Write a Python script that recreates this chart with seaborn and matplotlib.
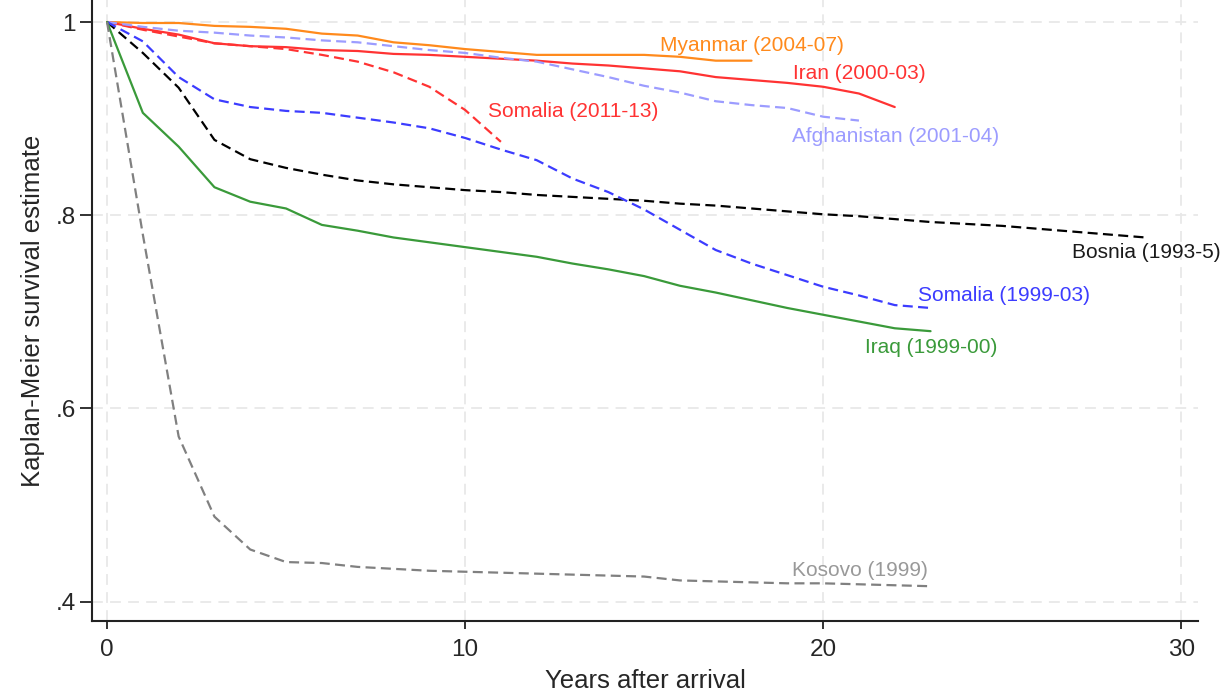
import numpy as np
import pandas as pd
import matplotlib
matplotlib.use("Agg")
import matplotlib.pyplot as plt
import seaborn as sns

# ---- data ----
SERIES = ["Myanmar (2004-07)", "Iran (2000-03)", "Somalia (2011-13)", "Afghanistan (2001-04)",
          "Bosnia (1993-5)", "Somalia (1999-03)", "Iraq (1999-00)", "Kosovo (1999)"]

myanmar = [1, 0.999, 0.999, 0.996, 0.995, 0.993, 0.988, 0.986, 0.979, 0.976, 0.972,
           0.969, 0.966, 0.966, 0.966, 0.966, 0.964, 0.960, 0.960]
iran = [1, 0.993, 0.987, 0.978, 0.975, 0.974, 0.971, 0.970, 0.967, 0.966, 0.964,
        0.962, 0.960, 0.957, 0.955, 0.952, 0.949, 0.943, 0.940, 0.937, 0.933, 0.926, 0.912]
somalia_11 = [1, 0.992, 0.985, 0.978, 0.975, 0.972, 0.966, 0.959, 0.948, 0.933, 0.909, 0.876]
afghanistan = [1, 0.995, 0.991, 0.989, 0.986, 0.984, 0.981, 0.979, 0.975, 0.971, 0.968,
               0.963, 0.959, 0.951, 0.943, 0.934, 0.927, 0.918, 0.914, 0.911, 0.902, 0.898]
bosnia = [1, 0.968, 0.932, 0.878, 0.858, 0.849, 0.842, 0.836, 0.832, 0.829, 0.826,
          0.824, 0.821, 0.819, 0.817, 0.815, 0.812, 0.810, 0.807, 0.804, 0.801,
          0.799, 0.796, 0.793, 0.791, 0.789, 0.786, 0.783, 0.780, 0.777]
somalia_99 = [1, 0.980, 0.943, 0.920, 0.912, 0.908, 0.906, 0.901, 0.896, 0.890, 0.880,
              0.868, 0.857, 0.838, 0.824, 0.806, 0.785, 0.764, 0.750, 0.738, 0.726,
              0.717, 0.707, 0.704]
iraq = [1, 0.906, 0.871, 0.829, 0.814, 0.807, 0.790, 0.784, 0.777, 0.772, 0.767,
        0.762, 0.757, 0.750, 0.744, 0.737, 0.727, 0.720, 0.712, 0.704, 0.697,
        0.690, 0.683, 0.680]
kosovo = [1, 0.780, 0.571, 0.488, 0.454, 0.441, 0.440, 0.436, 0.434, 0.432, 0.431,
          0.430, 0.429, 0.428, 0.427, 0.426, 0.422, 0.421, 0.420, 0.419, 0.419,
          0.418, 0.417, 0.416]

VALUES = [myanmar, iran, somalia_11, afghanistan, bosnia, somalia_99, iraq, kosovo]

# ---- styles ----
COLORS = {"Myanmar (2004-07)": "#ff8a1c", "Iran (2000-03)": "#ff3333",
          "Somalia (2011-13)": "#ff3333", "Afghanistan (2001-04)": "#9c9cff",
          "Bosnia (1993-5)": "#000000", "Somalia (1999-03)": "#3c3cff",
          "Iraq (1999-00)": "#3a9a3a", "Kosovo (1999)": "#808080"}
LABEL_COLORS = dict(COLORS)
LABEL_COLORS["Kosovo (1999)"] = "#999999"
LABEL_COLORS["Bosnia (1993-5)"] = "#1a1a1a"
DASHED = {"Somalia (2011-13)", "Afghanistan (2001-04)", "Bosnia (1993-5)",
          "Somalia (1999-03)", "Kosovo (1999)"}
DASHES = {s: ((4.5, 2.4) if s in DASHED else "") for s in SERIES}
# label anchors (left edge, vertical centre) in data units
LABEL_POS = {"Myanmar (2004-07)": (15.45, 0.976), "Iran (2000-03)": (19.17, 0.947),
             "Somalia (2011-13)": (10.64, 0.907), "Afghanistan (2001-04)": (19.13, 0.882),
             "Bosnia (1993-5)": (26.95, 0.761), "Somalia (1999-03)": (22.65, 0.717),
             "Iraq (1999-00)": (21.17, 0.663), "Kosovo (1999)": (19.13, 0.432)}

rows = []
for name, vals in zip(SERIES, VALUES):
    for yr, v in enumerate(vals):
        rows.append({"years": yr, "surv": v, "group": name})
df = pd.DataFrame(rows)

sns.set_style("white")
plt.rcParams["font.family"] = ["Liberation Sans", "DejaVu Sans"]

fig = plt.figure(figsize=(12.24, 6.99), dpi=100)
ax = fig.add_axes([92 / 1224, 78 / 699, 1106 / 1224, 621 / 699])

sns.lineplot(data=df, x="years", y="surv", hue="group", style="group",
             palette=COLORS, dashes=DASHES, hue_order=SERIES, style_order=SERIES,
             linewidth=1.6, legend=False, ax=ax)

for name in SERIES:
    x, y = LABEL_POS[name]
    ax.text(x, y, name, color=LABEL_COLORS[name], fontsize=15, ha="left", va="center")

ax.set_xlim(-0.42, 30.47)
ax.set_ylim(0.38, 1.0228)
ax.set_xticks([0, 10, 20, 30])
ax.set_yticks([0.4, 0.6, 0.8, 1.0])
ax.set_yticklabels([".4", ".6", ".8", "1"])
ax.tick_params(axis="both", labelsize=17.5, width=1.3, color="#222222",
               direction="out", left=True, bottom=True)
ax.tick_params(axis="y", length=8.5, pad=3)
ax.tick_params(axis="x", length=6, pad=7)
ax.grid(True, color="#e8e8e8", linestyle=(0, (6, 4)), linewidth=1.3)
ax.set_axisbelow(True)
for side in ["top", "right"]:
    ax.spines[side].set_visible(False)
for side in ["left", "bottom"]:
    ax.spines[side].set_color("#222222")
    ax.spines[side].set_linewidth(1.5)

ax.set_xlabel("Years after arrival", fontsize=18.5, labelpad=6)
ax.set_ylabel("Kaplan-Meier survival estimate", fontsize=18.5, labelpad=8)

fig.savefig("out.png", dpi=100)
